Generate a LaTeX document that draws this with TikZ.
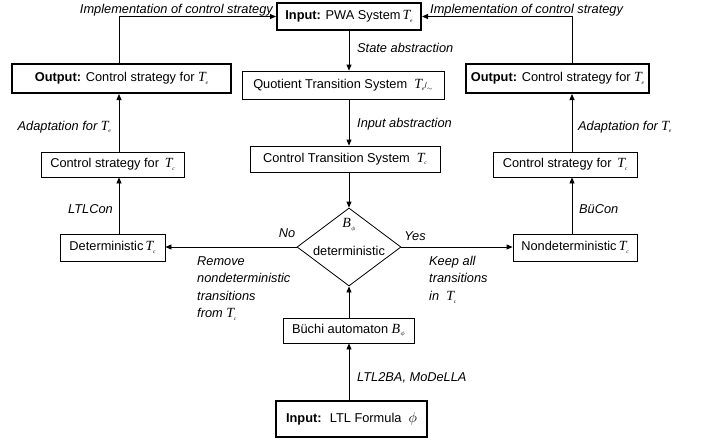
\documentclass[tikz,border=0pt]{standalone}
\usepackage{fontspec}
\setmainfont{Liberation Sans}
\newfontfamily\tms{Liberation Serif}
\usetikzlibrary{shapes.geometric,arrows.meta}
\newcommand\subsc[1]{\raisebox{-2.6pt}{\fontsize{5.5}{5.5}\selectfont\tms\itshape #1}}
\newcommand\Tv[1]{{\fontsize{14}{15}\selectfont\tms\itshape T}\kern-0.3pt\subsc{#1}}
\newcommand\Bphi{{\fontsize{14}{15}\selectfont\tms\itshape B}\kern0.2pt\raisebox{-2.6pt}{$\scriptscriptstyle\phi$}}
\begin{document}
\begin{tikzpicture}[x=1pt,y=-1pt,
  every node/.style={font=\fontsize{12.8}{15}\selectfont, inner sep=0pt},
  box/.style={draw, line width=0.8pt, minimum height=26pt, anchor=center},
  tbox/.style={draw, line width=2pt, minimum height=27pt, anchor=center},
  lab/.style={font=\fontsize{12.8}{17.5}\selectfont\itshape, align=left},
  arr/.style={line width=0.8pt, -{Triangle[length=6pt,width=5pt]}},
  ln/.style={line width=0.8pt}]
\useasboundingbox (0,0) rectangle (701,445);

% nodes
\node[tbox, minimum width=144pt] (pwa) at (349,16.5) {\textbf{Input:} PWA System\,\Tv{e}};
\node[tbox, minimum width=219pt, minimum height=29pt] (outL) at (121.5,78.5) {\textbf{Output:} Control strategy for \Tv{e}};
\node[tbox, minimum width=183pt, minimum height=29pt] (outR) at (557.5,78.5) {\textbf{Output:} Control strategy for \Tv{e}};
\node[box, minimum width=202pt, minimum height=28pt] (quot) at (343,85) {Quotient Transition System \;\Tv{e}\kern0.5pt{\fontsize{8}{8}\selectfont /}\raisebox{-2.6pt}{$\scriptscriptstyle\sim$}};
\node[box, minimum width=190pt] (cts) at (345,159) {Control Transition System \;\Tv{c}};
\node[box, minimum width=143pt, minimum height=25pt] (ctrlL) at (112.5,164.5) {Control strategy for \,\Tv{c}};
\node[box, minimum width=144pt, minimum height=25pt] (ctrlR) at (565,164.5) {Control strategy for \,\Tv{c}};
\node[draw, line width=0.8pt, diamond, minimum width=104pt, minimum height=78pt] (dia) at (349,247) {};
\node (bphi) at (349,225) {\Bphi};
\node (detw) at (349,251) {deterministic};
\node[box, minimum width=105pt, minimum height=27pt] (detL) at (112.5,247.5) {Deterministic\,\Tv{c}};
\node[box, minimum width=124pt, minimum height=27pt] (ndet) at (575,247.5) {Nondeterministic\,\Tv{c}};
\node[box, minimum width=131pt, minimum height=25pt] (buchi) at (348.5,330.5) {Büchi automaton \Bphi};
\node[tbox, minimum width=151pt, minimum height=36pt] (ltl) at (351.5,419) {\textbf{Input:} \ LTL Formula \ {\fontsize{14}{15}\selectfont$\phi$}};

\coordinate (cL) at (119,0);
\coordinate (cR) at (572,0);

% connectors
\draw[arr] (pwa.south) -- (pwa.south |- quot.north);
\draw[arr] (pwa.south |- quot.south) -- (pwa.south |- cts.north);
\draw[arr] (pwa.south |- cts.south) -- (dia.north);
\draw[arr] (dia.south |- ltl.north) -- (dia.south |- buchi.south);
\draw[arr] (dia.south |- buchi.north) -- (dia.south);
\draw[arr] (dia.west) -- (dia.west -| detL.east);
\draw[arr] (dia.east) -- (dia.east -| ndet.west);
\draw[arr] (detL.north -| cL) -- (ctrlL.south -| cL);
\draw[arr] (ctrlL.north -| cL) -- (outL.south -| cL);
\draw[arr] (outL.north -| cL) |- (pwa.west);
\draw[arr] (ndet.north -| cR) -- (ctrlR.south -| cR);
\draw[arr] (ctrlR.north -| cR) -- (outR.south -| cR);
\draw[arr] (outR.north -| cR) |- (pwa.east);

% labels
\node[lab, anchor=base east] (impL) at (273,13) {Implementation of control strategy};
\node[lab, anchor=base west] (impR) at (430,13) {Implementation of control strategy};
\node[lab, anchor=west] (sabs) at (357,48) {State abstraction};
\node[lab, anchor=west] (iabs) at (357,124) {Input abstraction};
\node[lab, anchor=east] (adL) at (111,127) {Adaptation for \Tv{e}};
\node[lab, anchor=west] (adR) at (578,127) {Adaptation for \Tv{e}};
\node[lab, anchor=west] (ltlcon) at (68,209) {LTLCon};
\node[lab, anchor=west] (bucon) at (579,209) {BüCon};
\node[lab, anchor=center] (no) at (287,233) {No};
\node[lab, anchor=center] (yes) at (415,236) {Yes};
\node[lab, anchor=north west] (rem) at (197,256) {Remove\\nondeterministic\\transitions\\from \Tv{c}};
\node[lab, anchor=north west] (keep) at (429,256) {Keep all\\transitions\\in \ \Tv{c}};
\node[lab, anchor=west] (l2ba) at (357,378) {LTL2BA, MoDeLLA};
\end{tikzpicture}
\end{document}
